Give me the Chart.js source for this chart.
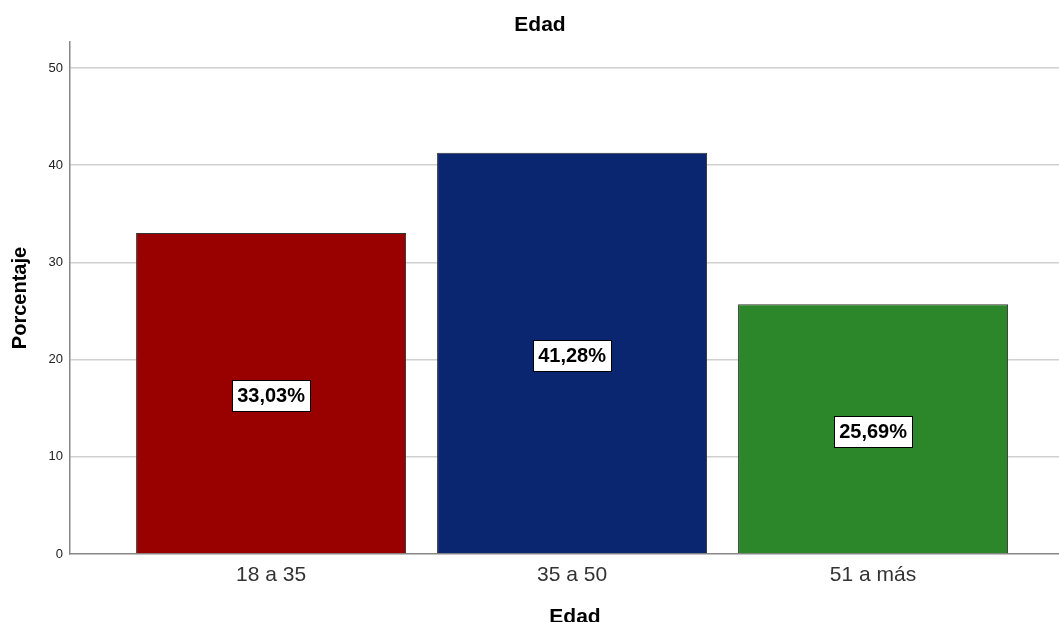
<!DOCTYPE html>
<html>
<head>
<meta charset="utf-8">
<script src="https://cdn.jsdelivr.net/npm/chart.js@4/dist/chart.umd.min.js"></script>
<style>
  html, body { margin: 0; padding: 0; background: #fff; overflow: hidden; }
  #wrap { width: 1080px; height: 630px; position: relative; }
</style>
</head>
<body>
<div id="wrap"><canvas id="myChart"></canvas></div>
<script>
var categories = ["18 a 35", "35 a 50", "51 a más"];
var percentages = [33.03, 41.28, 25.69];
var yTicks = [0, 10, 20, 30, 40, 50];

var barColors = ["#990000", "#0b2670", "#2b8729"];
var fontFamily = "'Liberation Sans', Arial, sans-serif";

// white box label in the middle of each bar
var boxLabels = {
  id: "boxLabels",
  afterDatasetsDraw: function (chart) {
    var ctx = chart.ctx;
    var meta = chart.getDatasetMeta(0);
    var yScale = chart.scales.y;
    ctx.save();
    ctx.font = "bold 20px " + fontFamily;
    ctx.textAlign = "center";
    ctx.textBaseline = "middle";
    meta.data.forEach(function (bar, i) {
      var txt = percentages[i].toFixed(2).replace(".", ",") + "%";
      var cy = (yScale.getPixelForValue(percentages[i]) + yScale.getPixelForValue(0)) / 2 + 2;
      var w = Math.round(ctx.measureText(txt).width + 10);
      var h = 31;
      var x0 = Math.round(bar.x - w / 2), y0 = Math.round(cy - h / 2);
      ctx.fillStyle = "#fff";
      ctx.fillRect(x0, y0, w, h);
      ctx.strokeStyle = "#000";
      ctx.lineWidth = 1;
      ctx.strokeRect(x0 + 0.5, y0 + 0.5, w, h);
      ctx.fillStyle = "#000";
      ctx.fillText(txt, bar.x, cy + 1);
    });
    ctx.restore();
  }
};

new Chart("myChart", {
  type: "bar",
  data: {
    datasets: [{
      data: percentages.map(function (v, i) { return { x: i + 1, y: v }; }),
      backgroundColor: barColors,
      borderColor: "#333",
      borderWidth: 1,
      barPercentage: 0.897,
      categoryPercentage: 1
    }]
  },
  options: {
    responsive: true,
    maintainAspectRatio: false,
    animation: false,
    layout: { padding: 0 },
    plugins: {
      legend: { display: false },
      tooltip: { enabled: false },
      title: {
        display: true,
        text: "Edad",
        color: "#000",
        font: { family: fontFamily, size: 21, weight: "bold" },
        padding: { top: 13, bottom: 3.8 }
      }
    },
    scales: {
      x: {
        type: "linear",
        offset: false,
        min: 0.332,
        max: 3.6875,
        afterBuildTicks: function (scale) {
          scale.ticks = categories.map(function (c, i) { return { value: i + 1 }; });
        },
        afterFit: function (scale) { scale.height = 76; },
        grid: { display: false, drawTicks: false, offset: false },
        border: { color: "#888", width: 1.5 },
        ticks: {
          padding: 9,
          color: "#333",
          font: { family: fontFamily, size: 21 },
          callback: function (v) { return categories[v - 1]; }
        },
        title: {
          display: true,
          text: "Edad",
          color: "#000",
          font: { family: fontFamily, size: 21, weight: "bold" },
          padding: { top: 2, bottom: 0 }
        }
      },
      y: {
        min: 0,
        max: 52.67,
        afterBuildTicks: function (scale) {
          scale.ticks = yTicks.map(function (v) { return { value: v }; });
        },
        afterFit: function (scale) { scale.width = 70; },
        grid: {
          drawTicks: false,
          color: function (c) { return c.tick.value === 0 ? "rgba(0,0,0,0)" : "#d0d0d0"; },
          lineWidth: 1.5
        },
        border: { color: "#888", width: 1.5 },
        ticks: {
          padding: 7,
          color: "#222",
          font: { family: fontFamily, size: 13 }
        },
        title: {
          display: true,
          text: "Porcentaje",
          color: "#000",
          font: { family: fontFamily, size: 20, weight: "bold" },
          padding: { top: 8, bottom: 0 }
        }
      }
    }
  },
  plugins: [boxLabels]
});
</script>
</body>
</html>
